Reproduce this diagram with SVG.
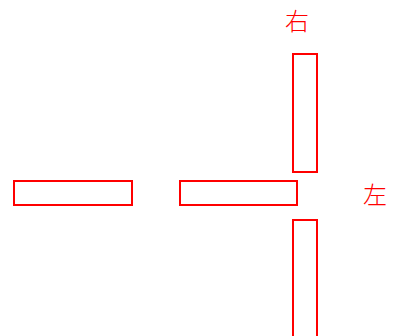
<svg xmlns="http://www.w3.org/2000/svg" width="393" height="336" viewBox="0 0 393 336">
<style>
.r{fill:none;stroke:#ff0000;stroke-width:2}
.t{fill:#ff0000;font-family:"Noto Sans CJK SC",sans-serif;font-size:24px;font-weight:300;text-anchor:middle}
</style>
<rect width="393" height="336" fill="#fff"/>
<g id="top"><rect class="r" x="293" y="54" width="24" height="118"/></g>
<g id="left"><rect class="r" x="14" y="181" width="118" height="24"/></g>
<g id="middle"><rect class="r" x="180" y="181" width="117" height="24"/></g>
<g id="bottom"><rect class="r" x="293" y="220" width="24" height="130"/></g>
<g id="label-right"><text class="t" x="297" y="30">右</text></g>
<g id="label-left"><text class="t" x="375" y="204">左</text></g>
<g id="connectors"></g>
</svg>
